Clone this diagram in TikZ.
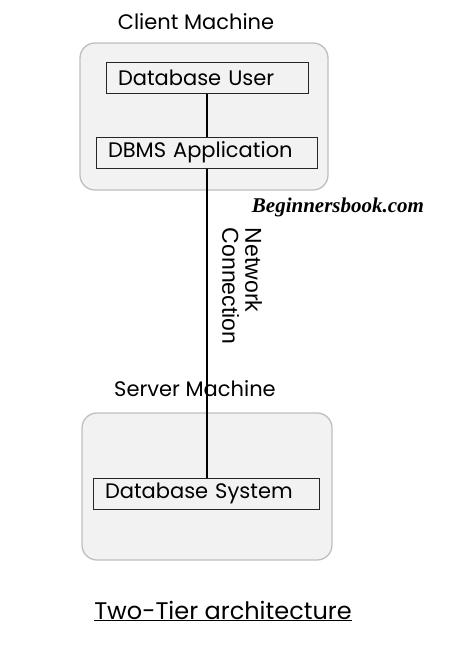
\documentclass[tikz,border=0pt]{standalone}
\usepackage{fontspec}
\setmainfont{Poppins}
\newfontfamily\netfont{Liberation Sans}
\newfontfamily\brandfont{Liberation Serif}
\usetikzlibrary{positioning}
\tikzstyle{machine} = [draw=black!25, fill=black!5, rounded corners=15pt, line width=1.3pt]
\tikzstyle{tier} = [draw=black!85, line width=1pt, minimum height=31pt, align=left, inner xsep=12pt, inner ysep=0pt, font=\fontsize{21}{23}\selectfont]
\tikzstyle{caption} = [font=\fontsize{21}{23}\selectfont]
\tikzstyle{link} = [line width=2pt]

\begin{document}
\begin{tikzpicture}[x=1pt,y=-1pt]
\fill[white] (0,0) rectangle (457,646);
%machines
\node[machine, minimum width=248pt, minimum height=147pt] (client) at (204,116.5) {};
\node[machine, minimum width=250pt, minimum height=147pt] (server) at (207,486.5) {};
\node[caption] (clientlbl) at (196,22) {Client Machine};
\node[caption] (serverlbl) at (195,389) {Server Machine};
%tiers
\node[tier, text width=178pt] (user) at (207,77.5) {Database User};
\node[tier, text width=197pt] (dbms) at (206.5,152.5) {DBMS Application};
\node[tier, text width=202pt] (system) at (206,493.5) {Database System};
%links
\draw[link] (user.south) -- (user.south |- dbms.north);
\draw[link] (user.south |- dbms.south) -- (user.south |- system.north);
\node[rotate=-90, align=left, font=\netfont\fontsize{23}{23}\selectfont] (net) at (242,286) {Network\\Connection};
\node[font=\brandfont\bfseries\itshape\fontsize{21}{23}\selectfont] (brand) at (338,207) {Beginnersbook.com};
%title
\node[font=\fontsize{24}{26}\selectfont] (title) at (223,611) {\underline{Two-Tier architecture}};
\end{tikzpicture}
\end{document}
